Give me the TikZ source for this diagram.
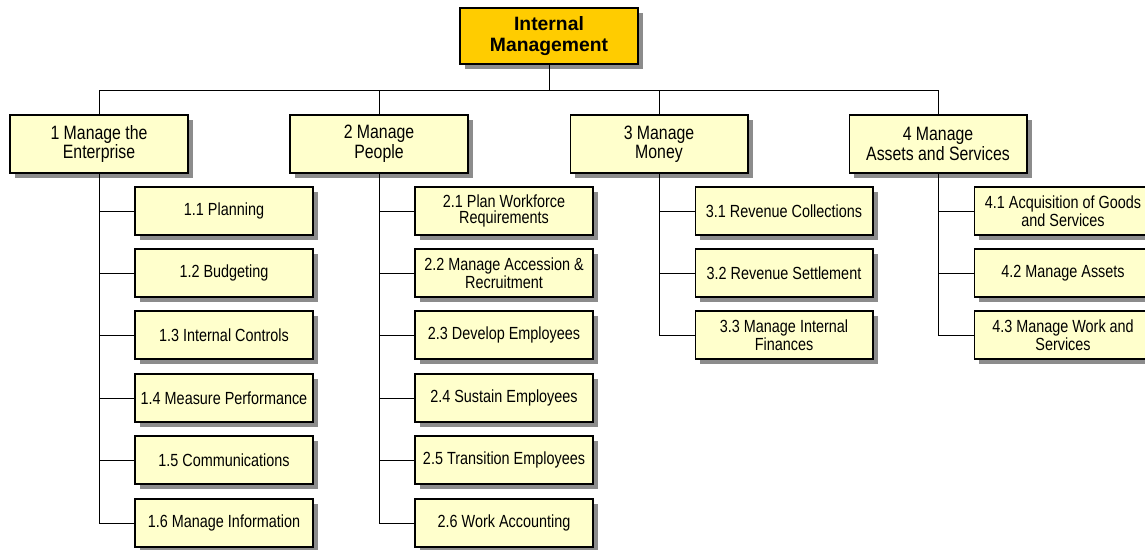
\documentclass[tikz,border=0pt]{standalone}
\usepackage{fontspec}
\setmainfont{Liberation Sans}[FakeStretch=0.82]
\newfontfamily\headfont{Liberation Sans}
\usetikzlibrary{shadows, positioning}

\definecolor{boxfill}{HTML}{FFFFCC}
\definecolor{topfill}{HTML}{FFCC00}
\definecolor{shadowgray}{HTML}{8C8C8C}

\begin{document}
\begin{tikzpicture}[x=0.02cm, y=-0.02cm]
\tikzstyle{base} = [rectangle, draw, line width=0.6pt, align=center, inner sep=2pt, drop shadow={shadow xshift=0.1cm, shadow yshift=-0.1cm, fill=shadowgray, opacity=1}]
\tikzstyle{topbox} = [base, fill=topfill, minimum width=3.56cm, minimum height=1.12cm, font=\headfont\bfseries\fontsize{11}{12}\selectfont]
\tikzstyle{areabox} = [base, fill=boxfill, minimum width=3.56cm, minimum height=1.16cm, font=\fontsize{11}{9.5}\selectfont]
\tikzstyle{taskbox} = [base, fill=boxfill, minimum width=3.56cm, minimum height=0.96cm, font=\fontsize{10}{9}\selectfont]
\tikzstyle{line} = [draw, line width=0.5pt]

\useasboundingbox (0,0) rectangle (1145,550);

% top of the tree
\node [topbox] (top) at (549,36) {Internal\\Management};
\coordinate (bus) at (549,90);

% the four areas
\node [areabox] (a1) at (99,144)  {1 Manage the\\Enterprise};
\node [areabox] (a2) at (379,144) {2 Manage\\People};
\node [areabox] (a3) at (659,144) {3 Manage\\Money};
\node [areabox] (a4) at (938,144) {4 Manage\\Assets and Services};

% tasks under area 1
\node [taskbox] (t11) at (224,211) {1.1 Planning};
\node [taskbox] (t12) at (224,273) {1.2 Budgeting};
\node [taskbox] (t13) at (224,335) {1.3 Internal Controls};
\node [taskbox] (t14) at (224,398) {1.4 Measure Performance};
\node [taskbox] (t15) at (224,460) {1.5 Communications};
\node [taskbox] (t16) at (224,523) {1.6 Manage Information};

% tasks under area 2
\node [taskbox] (t21) at (504,211) {2.1 Plan Workforce\\Requirements};
\node [taskbox] (t22) at (504,273) {2.2 Manage Accession \&\\Recruitment};
\node [taskbox] (t23) at (504,335) {2.3 Develop Employees};
\node [taskbox] (t24) at (504,398) {2.4 Sustain Employees};
\node [taskbox] (t25) at (504,460) {2.5 Transition Employees};
\node [taskbox] (t26) at (504,523) {2.6 Work Accounting};

% tasks under area 3
\node [taskbox] (t31) at (784,211) {3.1 Revenue Collections};
\node [taskbox] (t32) at (784,273) {3.2 Revenue Settlement};
\node [taskbox] (t33) at (784,335) {3.3 Manage Internal\\Finances};

% tasks under area 4
\node [taskbox] (t41) at (1063,211) {4.1 Acquisition of Goods\\and Services};
\node [taskbox] (t42) at (1063,273) {4.2 Manage Assets};
\node [taskbox] (t43) at (1063,335) {4.3 Manage Work and\\Services};

% connectors
\path [line] (top.south) -- (bus);
\foreach \a in {a1,a2,a3,a4}
  \path [line] (bus) -| (\a.north);
\foreach \t in {t11,t12,t13,t14,t15,t16}
  \path [line] (a1.south) |- (\t.west);
\foreach \t in {t21,t22,t23,t24,t25,t26}
  \path [line] (a2.south) |- (\t.west);
\foreach \t in {t31,t32,t33}
  \path [line] (a3.south) |- (\t.west);
\foreach \t in {t41,t42,t43}
  \path [line] (a4.south) |- (\t.west);
\end{tikzpicture}
\end{document}
